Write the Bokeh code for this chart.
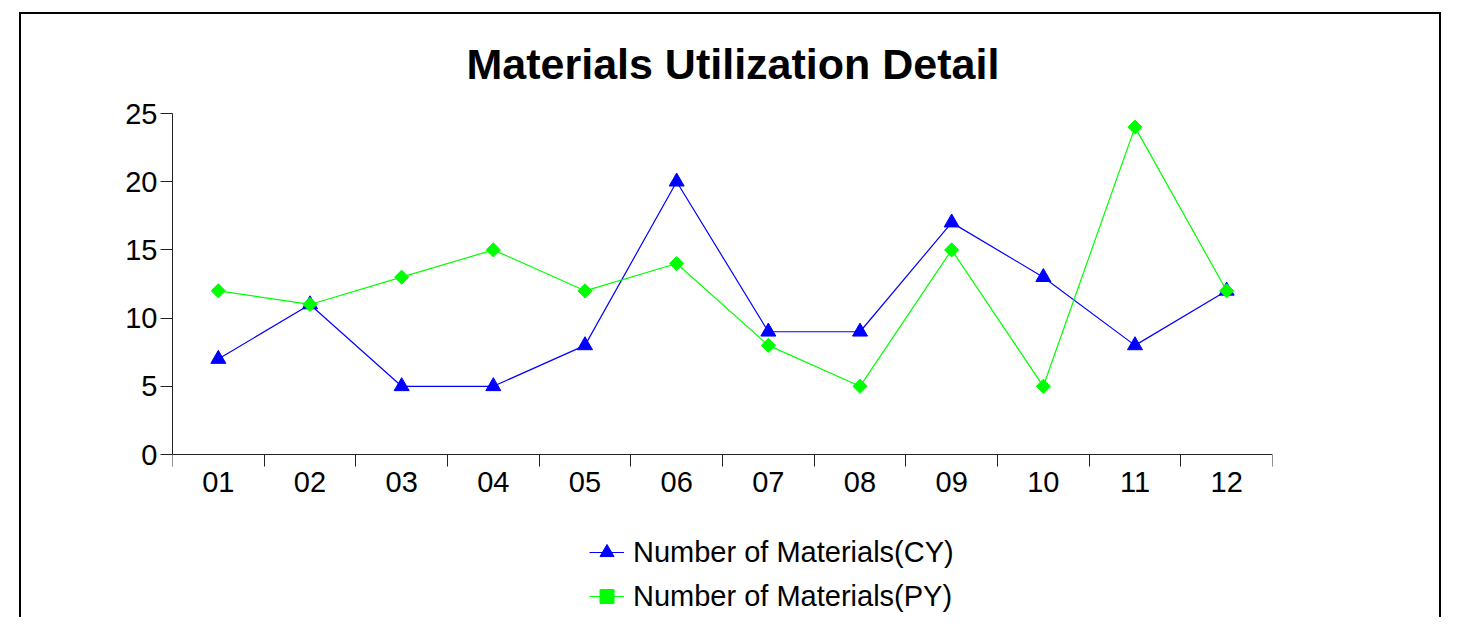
import math
from bokeh.plotting import figure
from bokeh.models import (Range1d, LinearAxis, FixedTicker, Legend, LegendItem, ColumnDataSource)
from bokeh.embed import file_html
from bokeh.resources import INLINE

months = ["01", "02", "03", "04", "05", "06", "07", "08", "09", "10", "11", "12"]
cy_values = [7, 11, 5, 5, 8, 20, 9, 9, 17, 13, 8, 12]
py_values = [12, 11, 13, 15, 12, 14, 8, 5, 15, 5, 24, 12]
y_ticks = [0, 5, 10, 15, 20, 25]
cy_label = "Number of Materials(CY)"
py_label = "Number of Materials(PY)"
title_text = "Materials Utilization Detail"

x_centers = [i + 0.5 for i in range(len(months))]
x_bounds = list(range(len(months) + 1))
y_max = y_ticks[-1]

FONT = "Liberation Sans"

# layout (pixels)
FIG_H = 605
TOP = 99
AXIS_PX = 341                      # pixel length of the 0..25 value axis
FRAME_H = FIG_H - TOP
y_low = -(FRAME_H - AXIS_PX) * y_max / AXIS_PX

p = figure(width=1422, height=FIG_H, output_backend="svg", toolbar_location=None,
           x_range=Range1d(0, len(months)), y_range=Range1d(y_low, y_max),
           x_axis_location=None, y_axis_location=None,
           min_border_left=151, min_border_right=171, min_border_top=TOP, min_border_bottom=0)
p.margin = (12, 0, 0, 19)
p.styles = {"border-top": "2px solid black", "border-left": "2px solid black",
            "border-right": "2px solid black"}
p.outline_line_color = None
p.grid.visible = False
p.background_fill_color = "white"
p.border_fill_color = "white"

p.title.text = title_text
p.title.align = "left"
p.title.offset = 294
p.title.vertical_align = "top"
p.title.text_font = FONT
p.title.text_font_style = "bold"
p.title.text_font_size = "43px"
p.title.text_color = "black"
p.title.standoff = 48

yaxis = LinearAxis(ticker=FixedTicker(ticks=y_ticks), bounds=(0, y_max))
yaxis.major_tick_out = 12
yaxis.major_tick_in = 0
yaxis.minor_tick_line_color = None
yaxis.axis_line_color = "#222222"
yaxis.major_tick_line_color = "#222222"
yaxis.major_label_text_font = FONT
yaxis.major_label_text_font_size = "29px"
yaxis.major_label_text_color = "black"
yaxis.major_label_standoff = 3
p.add_layout(yaxis, "left")

xaxis = LinearAxis(ticker=FixedTicker(ticks=x_centers, minor_ticks=x_bounds), fixed_location=0)
xaxis.major_label_overrides = {c: m for c, m in zip(x_centers, months)}
xaxis.major_tick_line_color = None
xaxis.major_tick_out = 6
xaxis.minor_tick_out = 12
xaxis.minor_tick_in = 0
xaxis.minor_tick_line_color = "#222222"
xaxis.axis_line_color = "#222222"
xaxis.major_label_text_font = FONT
xaxis.major_label_text_font_size = "29px"
xaxis.major_label_text_color = "black"
xaxis.major_label_standoff = 5
p.add_layout(xaxis, "below")

BLUE = "#0000FF"
GREEN = "#00FF00"

py_src = ColumnDataSource(data=dict(x=x_centers, y=py_values))

l1 = p.line(x_centers, cy_values, line_color=BLUE, line_width=1.2)
m1 = p.scatter(x_centers, cy_values, marker="triangle", size=15, fill_color=BLUE, line_color=BLUE)
l2 = p.line("x", "y", source=py_src, line_color=GREEN, line_width=1.2)
m2 = p.scatter("x", "y", source=py_src, marker="square", angle=math.pi / 4, size=10,
               fill_color=GREEN, line_color=GREEN)

legend = Legend(items=[LegendItem(label=cy_label, renderers=[l1, m1]),
                       LegendItem(label=py_label, renderers=[l2, m2])],
                location=(417, 5), orientation="vertical")
legend.border_line_color = None
legend.background_fill_alpha = 0
legend.label_text_font = FONT
legend.label_text_font_size = "29px"
legend.label_text_color = "black"
legend.glyph_width = 35
legend.glyph_height = 36
legend.label_height = 29
legend.spacing = 8
legend.padding = 0
legend.margin = 0
legend.label_standoff = 9
p.add_layout(legend, "center")

open("out.html", "w").write(file_html(p, INLINE))
